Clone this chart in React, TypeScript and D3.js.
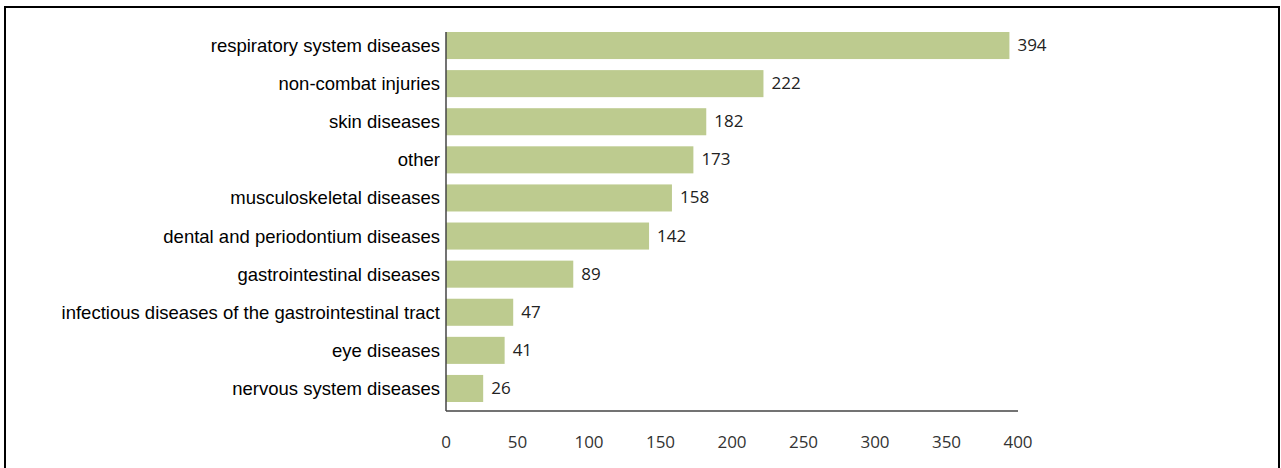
import React from "react";
import * as d3 from "d3";

const categories = [
  "respiratory system diseases",
  "non-combat injuries",
  "skin diseases",
  "other",
  "musculoskeletal diseases",
  "dental and periodontium diseases",
  "gastrointestinal diseases",
  "infectious diseases of the gastrointestinal tract",
  "eye diseases",
  "nervous system diseases",
];
const values = [394, 222, 182, 173, 158, 142, 89, 47, 41, 26];
const tickValues = [0, 50, 100, 150, 200, 250, 300, 350, 400];

const W = 1281;
const H = 468;

export default function App() {
  const x = d3.scaleLinear().domain([0, 400]).range([446, 1018]);
  const y = d3
    .scaleBand<string>()
    .domain(categories)
    .range([32, 402])
    .paddingInner(0.29)
    .paddingOuter(0);
  const barColor = "#bdcb8f";
  return (
    <svg
      width={W}
      height={H}
      style={{ position: "absolute", left: 0, top: 0, background: "#fff" }}
    >
      <rect x={0} y={0} width={W} height={H} fill="#fff" />
      {/* frame */}
      <path
        d={`M5,${H + 2} L5,7 L1279,7 L1279,${H + 2}`}
        fill="none"
        stroke="#000"
        strokeWidth={2}
      />
      {categories.map((c, i) => (
        <g key={c}>
          <rect
            x={x(0)}
            y={y(c)!}
            width={x(values[i]) - x(0)}
            height={y.bandwidth()}
            fill={barColor}
          />
          <text
            x={x(values[i]) + 8}
            y={y(c)! + y.bandwidth() / 2 + 5.5}
            fontFamily="'Open Sans', sans-serif"
            fontSize={17}
            fill="#222"
          >
            {values[i]}
          </text>
          <text
            x={440}
            y={y(c)! + y.bandwidth() / 2}
            dy="0.35em"
            textAnchor="end"
            fontFamily="Arial, 'Liberation Sans', sans-serif"
            fontSize={18.5}
            fill="#000"
          >
            {c}
          </text>
        </g>
      ))}
      {/* axes */}
      <line x1={x(0)} x2={x(0)} y1={32} y2={411} stroke="#444" strokeWidth={1.5} />
      <line x1={x(0)} x2={x(400)} y1={411} y2={411} stroke="#444" strokeWidth={1.5} />
      {tickValues.map((t) => (
        <text
          key={t}
          x={x(t)}
          y={448}
          textAnchor="middle"
          fontFamily="'Open Sans', sans-serif"
          fontSize={17}
          fill="#333"
        >
          {t}
        </text>
      ))}
    </svg>
  );
}
